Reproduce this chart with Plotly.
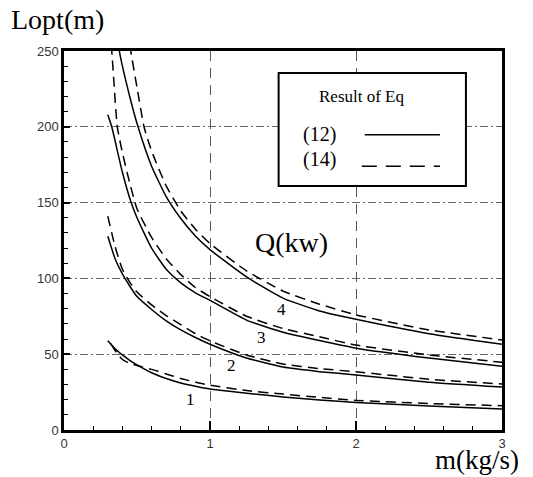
import plotly.graph_objects as go

# ---- data ----
x_s1 = [0.30, 0.35, 0.40, 0.45, 0.50, 0.60, 0.70, 0.80, 0.90, 1.00, 1.25, 1.50, 1.75, 2.00, 2.50, 3.00]
y_s1 = [58.8, 53.5, 49.5, 46.0, 43.0, 37.8, 34.0, 31.0, 28.8, 27.0, 24.3, 21.8, 19.8, 18.2, 15.8, 13.8]
x_d1 = [0.32, 0.36, 0.40, 0.45, 0.50, 0.60, 0.70, 0.80, 0.90, 1.00, 1.25, 1.50, 1.75, 2.00, 2.50, 3.00]
y_d1 = [57.0, 51.0, 46.5, 44.0, 42.5, 40.0, 37.0, 34.0, 31.5, 29.6, 26.0, 23.7, 21.5, 19.5, 17.5, 16.0]

x_s2 = [0.30, 0.35, 0.40, 0.45, 0.50, 0.60, 0.70, 0.80, 0.90, 1.00, 1.25, 1.50, 1.75, 2.00, 2.50, 3.00]
y_s2 = [127.8, 113.0, 103.0, 95.0, 88.0, 79.5, 72.0, 66.0, 61.0, 56.6, 47.5, 41.5, 38.5, 36.3, 31.5, 28.3]
x_d2 = [0.30, 0.35, 0.40, 0.45, 0.50, 0.60, 0.70, 0.80, 0.90, 1.00, 1.25, 1.50, 1.75, 2.00, 2.50, 3.00]
y_d2 = [141.0, 121.0, 106.0, 97.5, 91.0, 82.5, 75.5, 69.5, 63.5, 58.8, 49.5, 43.5, 40.5, 38.4, 33.5, 30.3]

x_s3 = [0.30, 0.327, 0.40, 0.46, 0.50, 0.60, 0.70, 0.80, 0.90, 1.00, 1.25, 1.50, 1.75, 2.00, 2.50, 3.00]
y_s3 = [208.0, 200.0, 170.0, 150.0, 140.0, 120.0, 106.0, 97.0, 90.5, 85.5, 72.5, 64.5, 59.0, 54.0, 47.5, 42.0]
x_d3 = [0.30, 0.327, 0.365, 0.40, 0.45, 0.50, 0.60, 0.70, 0.80, 0.90, 1.00, 1.25, 1.50, 1.75, 2.00, 2.50, 3.00]
y_d3 = [275.0, 250.0, 200.0, 183.0, 163.0, 146.0, 127.0, 113.0, 102.5, 94.0, 88.0, 75.0, 67.0, 61.5, 56.0, 49.5, 44.7]

x_s4 = [0.35, 0.379, 0.45, 0.507, 0.60, 0.70, 0.80, 0.90, 1.00, 1.25, 1.50, 1.75, 2.00, 2.50, 3.00]
y_s4 = [275.0, 250.0, 220.0, 200.0, 174.0, 154.0, 139.5, 128.0, 119.0, 101.0, 87.0, 78.5, 73.0, 63.5, 56.6]
x_d4 = [0.42, 0.457, 0.50, 0.548, 0.60, 0.70, 0.80, 0.90, 1.00, 1.25, 1.50, 1.75, 2.00, 2.50, 3.00]
y_d4 = [275.0, 250.0, 226.0, 200.0, 184.0, 161.0, 144.5, 132.5, 123.0, 105.0, 91.6, 83.0, 76.0, 66.0, 59.4]

curve_labels = ["1", "2", "3", "4"]
curve_label_x = [0.863, 1.149, 1.354, 1.491]
curve_label_y = [20.4, 42.3, 61.0, 79.6]

x_ticks = [0, 1, 2, 3]
y_ticks = [0, 50, 100, 150, 200, 250]

SERIF = "Times New Roman, Liberation Serif, serif"
SANS = "Arial, Liberation Sans, sans-serif"
DASH = "10px,6px"

fig = go.Figure()
solid_sets = [(x_s1, y_s1), (x_s2, y_s2), (x_s3, y_s3), (x_s4, y_s4)]
dashed_sets = [(x_d1, y_d1), (x_d2, y_d2), (x_d3, y_d3), (x_d4, y_d4)]
for i, (xs, ys) in enumerate(solid_sets):
    fig.add_trace(go.Scatter(x=xs, y=ys, mode="lines",
                             line=dict(color="black", width=1.5, shape="spline", smoothing=0.5),
                             name="(12) Q%d" % (i + 1), showlegend=False))
for i, (xs, ys) in enumerate(dashed_sets):
    fig.add_trace(go.Scatter(x=xs, y=ys, mode="lines",
                             line=dict(color="black", width=1.5, dash=DASH, shape="spline", smoothing=0.5),
                             name="(14) Q%d" % (i + 1), showlegend=False))

annotations = []
for t, ax, ay in zip(curve_labels, curve_label_x, curve_label_y):
    annotations.append(dict(x=ax, y=ay, text=t, showarrow=False, font=dict(family=SERIF, size=17, color="black")))
annotations += [
    dict(x=1.56, y=123.5, text="Q(kw)", showarrow=False, font=dict(family=SERIF, size=28, color="black")),
    dict(xref="paper", yref="paper", x=-0.125, y=1.13, xanchor="left", yanchor="top", text="Lopt(m)",
         showarrow=False, font=dict(family=SERIF, size=28, color="black")),
    dict(xref="paper", yref="paper", x=1.041, y=-0.1214, xanchor="right", yanchor="bottom", text="m(kg/s)",
         showarrow=False, borderpad=0, font=dict(family=SERIF, size=27, color="black")),
    # legend box texts
    dict(x=2.04, y=220, text="Result of Eq", showarrow=False, font=dict(family=SERIF, size=17, color="black")),
    dict(x=1.753, y=194.7, text="(12)", showarrow=False, font=dict(family=SERIF, size=20, color="black")),
    dict(x=1.753, y=178.3, text="(14)", showarrow=False, font=dict(family=SERIF, size=20, color="black")),
]

shapes = [
    dict(type="rect", x0=1.47, x1=2.753, y0=161, y1=235.5, line=dict(color="black", width=2),
         fillcolor="white", layer="between"),
    dict(type="line", x0=2.06, x1=2.575, y0=194.7, y1=194.7, line=dict(color="black", width=1.5), layer="above"),
    dict(type="line", x0=2.04, x1=2.575, y0=174, y1=174, line=dict(color="black", width=1.5, dash="15px,9px"),
         layer="above"),
]

fig.update_layout(
    width=533, height=477,
    margin=dict(l=64, r=31, t=51, b=47),
    plot_bgcolor="white", paper_bgcolor="white",
    annotations=annotations, shapes=shapes,
    showlegend=False,
)
fig.update_xaxes(
    range=[0, 3], tickvals=x_ticks, ticktext=[str(v) for v in x_ticks],
    ticks="inside", ticklen=9, tickwidth=2, tickcolor="black",
    minor=dict(dtick=0.2, tick0=0, ticks="inside", ticklen=4, tickwidth=1, tickcolor="black", showgrid=False),
    showline=True, linewidth=2.5, linecolor="black", mirror=True,
    showgrid=True, gridcolor="#555555", gridwidth=1, griddash="10px,7px",
    zeroline=False, tickfont=dict(family=SANS, size=13, color="#333333"),
)
fig.update_yaxes(
    range=[0, 250], tickvals=y_ticks, ticktext=[str(v) for v in y_ticks],
    ticks="inside", ticklen=6, tickwidth=2, tickcolor="black",
    minor=dict(dtick=10, tick0=0, ticks="inside", ticklen=4, tickwidth=1, tickcolor="black", showgrid=False),
    showline=True, linewidth=2.5, linecolor="black", mirror=True,
    showgrid=True, gridcolor="#666666", gridwidth=1, griddash="8px,3px,2px,3px",
    zeroline=False, tickfont=dict(family=SANS, size=13, color="#333333"),
)

fig.write_html("out.html", config={"displayModeBar": False},
               post_script="document.body.style.margin='0';document.body.style.padding='0';")
